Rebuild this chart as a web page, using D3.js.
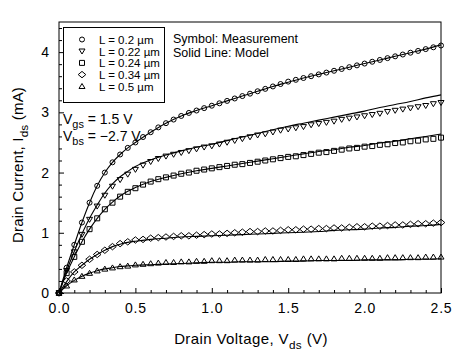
<!DOCTYPE html>
<html><head><meta charset="utf-8">
<script src="https://cdn.jsdelivr.net/npm/d3@7"></script>
<style>
body{margin:0;background:#fff;}
text{font-family:"Liberation Sans",Arial,sans-serif;fill:#000;}
</style></head>
<body><svg id="c" width="468" height="360"></svg>
<script>
// measurement grid (V)
const vMeas = [0,0.05,0.10,0.15,0.20,0.25,0.30,0.35,0.40,0.45,0.50,0.55,0.60,0.65,0.70,0.75,0.80,0.85,0.90,0.95,1.00,1.05,1.10,1.15,1.20,1.25,1.30,1.35,1.40,1.45,1.50,1.55,1.60,1.65,1.70,1.75,1.80,1.85,1.90,1.95,2.00,2.05,2.10,2.15,2.20,2.25,2.30,2.35,2.40,2.45,2.50];
// model grid (V)
const vModel = [0,0.05,0.10,0.15,0.20,0.25,0.30,0.35,0.40,0.45,0.50,0.6,0.7,0.8,0.9,1.0,1.1,1.2,1.3,1.4,1.5,1.6,1.7,1.8,1.9,2.0,2.1,2.2,2.3,2.4,2.5];

const labels = ["L = 0.2 µm","L = 0.22 µm","L = 0.24 µm","L = 0.34 µm","L = 0.5 µm"];
const symbolNames = ["circle","triangleDown","square","diamond","triangleUp"];

// measured Ids (mA)
const meas020 = [0,0.42,0.80,1.17,1.50,1.78,2.00,2.17,2.30,2.41,2.50,2.59,2.67,2.75,2.82,2.88,2.94,2.99,3.03,3.07,3.11,3.15,3.19,3.23,3.27,3.31,3.35,3.39,3.43,3.47,3.51,3.54,3.57,3.60,3.63,3.66,3.69,3.72,3.75,3.78,3.81,3.84,3.87,3.90,3.93,3.96,3.99,4.02,4.05,4.08,4.11];
const meas022 = [0,0.37,0.68,0.97,1.22,1.44,1.62,1.77,1.88,1.97,2.05,2.12,2.18,2.23,2.27,2.30,2.33,2.36,2.39,2.42,2.44,2.47,2.50,2.53,2.56,2.59,2.62,2.64,2.67,2.70,2.72,2.74,2.76,2.79,2.81,2.83,2.85,2.88,2.90,2.92,2.94,2.96,2.98,3.01,3.03,3.05,3.07,3.09,3.11,3.14,3.16];
const meas024 = [0,0.33,0.60,0.85,1.06,1.24,1.39,1.50,1.60,1.68,1.74,1.80,1.85,1.89,1.92,1.95,1.98,2.00,2.03,2.05,2.07,2.09,2.11,2.13,2.14,2.16,2.18,2.20,2.22,2.24,2.26,2.27,2.29,2.31,2.33,2.34,2.36,2.38,2.40,2.41,2.43,2.44,2.46,2.47,2.49,2.50,2.52,2.53,2.55,2.56,2.58];
const meas034 = [0,0.20,0.35,0.46,0.56,0.64,0.71,0.77,0.82,0.85,0.88,0.89,0.91,0.92,0.93,0.94,0.95,0.95,0.96,0.97,0.98,0.98,0.99,1.00,1.01,1.02,1.02,1.03,1.03,1.04,1.05,1.05,1.06,1.06,1.07,1.07,1.08,1.08,1.09,1.10,1.10,1.11,1.11,1.12,1.13,1.13,1.14,1.15,1.15,1.16,1.17];
const meas050 = [0,0.12,0.22,0.28,0.33,0.37,0.40,0.42,0.44,0.45,0.47,0.48,0.49,0.50,0.51,0.51,0.52,0.52,0.53,0.53,0.54,0.54,0.54,0.55,0.55,0.55,0.55,0.56,0.56,0.56,0.56,0.56,0.57,0.57,0.57,0.57,0.57,0.58,0.58,0.58,0.58,0.58,0.58,0.59,0.59,0.59,0.59,0.59,0.60,0.60,0.60];

// model Ids (mA)
const model020 = [0,0.42,0.80,1.17,1.50,1.78,2.00,2.17,2.30,2.41,2.50,2.67,2.82,2.94,3.03,3.11,3.19,3.27,3.35,3.43,3.50,3.57,3.63,3.69,3.75,3.81,3.87,3.93,3.99,4.05,4.12];
const model022 = [0,0.37,0.69,0.98,1.24,1.46,1.66,1.81,1.93,2.02,2.10,2.21,2.29,2.36,2.42,2.47,2.53,2.59,2.65,2.71,2.77,2.82,2.87,2.92,2.97,3.02,3.08,3.13,3.18,3.24,3.29];
const model024 = [0,0.33,0.60,0.85,1.06,1.24,1.39,1.51,1.61,1.69,1.75,1.85,1.92,1.98,2.03,2.07,2.11,2.15,2.19,2.23,2.27,2.31,2.35,2.38,2.42,2.45,2.49,2.52,2.56,2.60,2.64];
const model034 = [0,0.19,0.35,0.46,0.56,0.64,0.71,0.77,0.81,0.84,0.86,0.89,0.91,0.93,0.94,0.95,0.96,0.97,0.98,0.99,1.00,1.01,1.02,1.04,1.05,1.06,1.08,1.09,1.11,1.12,1.14];
const model050 = [0,0.12,0.21,0.28,0.33,0.37,0.40,0.42,0.44,0.45,0.46,0.47,0.48,0.49,0.50,0.51,0.51,0.52,0.52,0.52,0.53,0.53,0.54,0.54,0.54,0.55,0.55,0.55,0.56,0.56,0.57];

const measSeries = [meas020,meas022,meas024,meas034,meas050];
const modelSeries = [model020,model022,model024,model034,model050];

const xMajor = [0,0.5,1.0,1.5,2.0,2.5];
const xMinor = [0.1,0.2,0.3,0.4,0.6,0.7,0.8,0.9,1.1,1.2,1.3,1.4,1.6,1.7,1.8,1.9,2.1,2.2,2.3,2.4];
const yMajor = [0,1,2,3,4];
const yMinor = [0.2,0.4,0.6,0.8,1.2,1.4,1.6,1.8,2.2,2.4,2.6,2.8,3.2,3.4,3.6,3.8,4.2,4.4];

const svg = d3.select("#c");
const x = d3.scaleLinear().domain([0,2.5]).range([59,441]);
const y = d3.scaleLinear().domain([0,4.5]).range([293,22]);

// symbol types
const sym = {
  circle:{draw(c){c.moveTo(2.5,0);c.arc(0,0,2.5,0,2*Math.PI);}},
  square:{draw(c){c.rect(-2.5,-2.5,5,5);}},
  triangleUp:{draw(c){c.moveTo(0,-2.8);c.lineTo(3,2.2);c.lineTo(-3,2.2);c.closePath();}},
  triangleDown:{draw(c){c.moveTo(0,2.8);c.lineTo(3,-2.2);c.lineTo(-3,-2.2);c.closePath();}},
  diamond:{draw(c){c.moveTo(-3.8,0);c.lineTo(0,-3.2);c.lineTo(3.8,0);c.lineTo(0,3.2);c.closePath();}}
};

// frame
svg.append("rect").attr("x",x(0)).attr("y",y(4.5)).attr("width",x(2.5)-x(0)).attr("height",y(0)-y(4.5))
  .attr("fill","none").attr("stroke","#000").attr("stroke-width",1);

// axes
const fs = "14px";
const gx = svg.append("g").attr("transform",`translate(0,${y(0)})`)
  .call(d3.axisBottom(x).tickValues(xMajor).tickSize(-5).tickPadding(10).tickFormat(d3.format(".1f")));
gx.select(".domain").remove();
gx.selectAll("text").style("font-size",fs).style("font-family","Liberation Sans, Arial").attr("letter-spacing","0.8");
svg.append("g").attr("transform",`translate(0,${y(0)})`)
  .call(d3.axisBottom(x).tickValues(xMinor).tickSize(-3).tickFormat(""))
  .select(".domain").remove();
const gy = svg.append("g").attr("transform",`translate(${x(0)},0)`)
  .call(d3.axisLeft(y).tickValues(yMajor).tickSize(-5).tickPadding(10).tickFormat(d3.format("d")));
gy.select(".domain").remove();
gy.selectAll("text").style("font-size",fs).style("font-family","Liberation Sans, Arial");
svg.append("g").attr("transform",`translate(${x(0)},0)`)
  .call(d3.axisLeft(y).tickValues(yMinor).tickSize(-3).tickFormat(""))
  .select(".domain").remove();
svg.selectAll(".tick line").attr("stroke","#000");

// model lines
const line = d3.line().x((d,i)=>x(vModel[i])).y(d=>y(d)).curve(d3.curveMonotoneX);
svg.append("g").selectAll("path").data(modelSeries).join("path")
  .attr("d",line).attr("fill","none").attr("stroke","#000").attr("stroke-width",1.1);

// measured symbols
measSeries.forEach((s,k)=>{
  const gen = d3.symbol().type(sym[symbolNames[k]]);
  svg.append("g").selectAll("path").data(s).join("path")
    .attr("transform",(d,i)=>`translate(${x(vMeas[i])},${y(d)})`)
    .attr("d",gen()).attr("fill","none").attr("stroke","#000").attr("stroke-width",1);
});

// legend box
const lg = svg.append("g");
lg.append("rect").attr("x",63.5).attr("y",27.5).attr("width",101).attr("height",75)
  .attr("fill","#fff").attr("stroke","#000").attr("stroke-width",1);
labels.forEach((t,k)=>{
  const cy = 39.5 + k*11.7;
  lg.append("path").attr("transform",`translate(82,${cy})`)
    .attr("d",d3.symbol().type(sym[symbolNames[k]])()).attr("fill","none").attr("stroke","#000");
  lg.append("text").attr("x",99).attr("y",cy+4.3).style("font-size","11.5px").text(t);
});

// annotations
svg.append("text").attr("x",173).attr("y",43).style("font-size","12.5px").text("Symbol: Measurement");
svg.append("text").attr("x",173).attr("y",57).style("font-size","12.5px").text("Solid Line: Model");

function subText(xx,yy,main,sub,rest,size,rot,ls){
  const t = svg.append("text").attr("x",xx).attr("y",yy).style("font-size",size+"px");
  if(ls) t.attr("letter-spacing",ls);
  if(rot) t.attr("transform",`rotate(-90,${xx},${yy})`).attr("text-anchor","middle");
  t.append("tspan").text(main);
  t.append("tspan").attr("dy",size*0.3).style("font-size",(size*0.78)+"px").text(sub);
  t.append("tspan").attr("dy",-size*0.3).text(rest);
  return t;
}
subText(63,124,"V","gs"," = 1.5 V",14);
subText(63,141,"V","bs"," = \u22122.7 V",14);

const xt = subText(251,344,"Drain Voltage, V","ds"," (V)",15,false,"0.4");
xt.attr("text-anchor","middle");
subText(23,165,"Drain Current, I","ds"," (mA)",15,true,"0.2");
</script></body></html>
